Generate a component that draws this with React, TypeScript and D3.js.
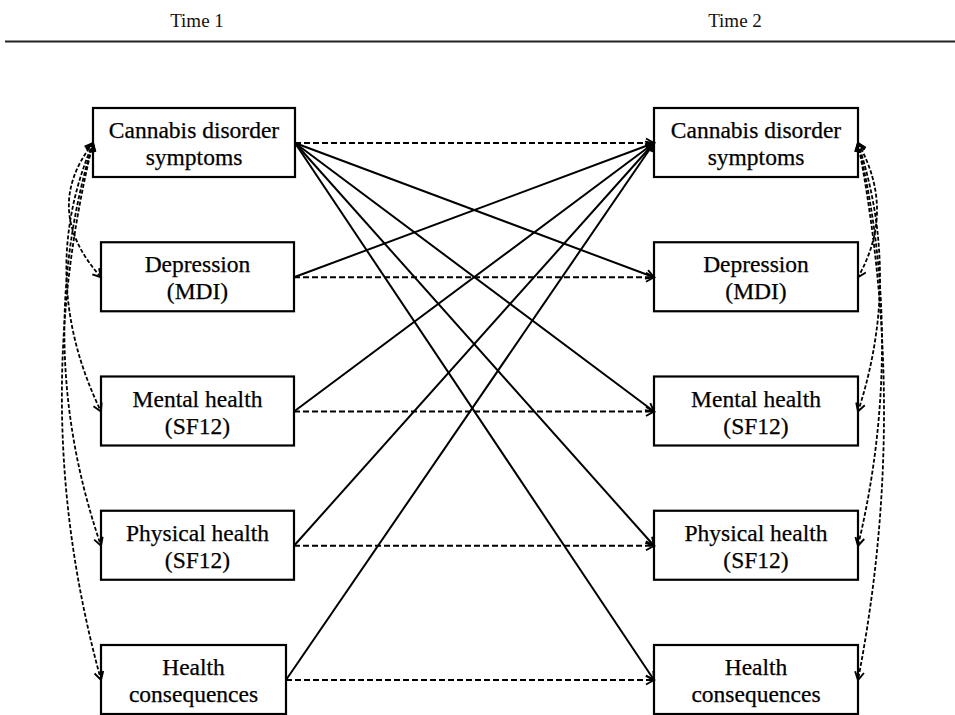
import React from "react";
import * as d3 from "d3";

// Time points (column headers)
const timeLabels = ["Time 1", "Time 2"];

// Measured constructs, one row each (two text lines per box)
const variables = ["cds", "mdi", "mh", "ph", "hc"];
const variableLines: string[][] = [
  ["Cannabis disorder", "symptoms"],
  ["Depression", "(MDI)"],
  ["Mental health", "(SF12)"],
  ["Physical health", "(SF12)"],
  ["Health", "consequences"],
];

// Autoregressive paths (T1 -> T2 same variable, dashed)
const stabilityPaths = [
  ["cds", "cds"],
  ["mdi", "mdi"],
  ["mh", "mh"],
  ["ph", "ph"],
  ["hc", "hc"],
];

// Cross-lagged paths (solid)
const crossLaggedPaths = [
  ["cds", "mdi"],
  ["cds", "mh"],
  ["cds", "ph"],
  ["cds", "hc"],
  ["mdi", "cds"],
  ["mh", "cds"],
  ["ph", "cds"],
  ["hc", "cds"],
];

// Within-time correlations (curved dashed, two heads)
const correlations = [
  ["cds", "mdi"],
  ["cds", "mh"],
  ["cds", "ph"],
  ["cds", "hc"],
];

const W = 955;
const H = 715;

// layout
const rowY = d3.scalePoint<string>().domain(variables).range([143, 680]);
const colX = d3.scalePoint<string>().domain(timeLabels).range([197, 735]);
const leftBoxX: [number, number][] = [
  [93, 295],
  [101, 294],
  [101, 294],
  [101, 294],
  [101, 286],
];
const rightBoxX: [number, number] = [654, 858];
const boxH = 69;
const leftBulge = [52, 57, 61, 66];
const rightBulge = [38, 44, 48, 52];

const font = "'Liberation Serif', 'Times New Roman', serif";

export default function App() {
  const idx = (v: string) => variables.indexOf(v);
  const lx = (v: string) => leftBoxX[idx(v)];

  const arc = (x0: number, y0: number, cx: number, x1: number, y1: number) => {
    const p = d3.path();
    p.moveTo(x0, y0);
    p.quadraticCurveTo(cx, (y0 + y1) / 2, x1, y1);
    return p.toString();
  };

  return (
    <svg
      width={W}
      height={H}
      style={{ position: "absolute", left: 0, top: 0, display: "block", background: "#fff" }}
      fontFamily={font}
    >
      <defs>
        <marker
          id="head"
          viewBox="-10 -6 12 12"
          refX={0}
          refY={0}
          markerWidth={12}
          markerHeight={12}
          markerUnits="userSpaceOnUse"
          orient="auto-start-reverse"
        >
          <path d="M-8,-4.5 L0,0 L-8,4.5" fill="none" stroke="#000" strokeWidth={1.9} />
        </marker>
      </defs>

      {/* header */}
      {timeLabels.map((t) => (
        <text key={t} x={colX(t)} y={27} textAnchor="middle" fontSize={19} fill="#111">
          {t}
        </text>
      ))}
      <line x1={5} x2={W} y1={41.5} y2={41.5} stroke="#222" strokeWidth={2} />

      {/* boxes */}
      {variables.map((v, i) => {
        const cy = rowY(v)!;
        const [a, b] = leftBoxX[i];
        return (
          <g key={v}>
            <rect x={a} y={cy - 35} width={b - a} height={boxH} fill="#fff" stroke="#000" strokeWidth={2.2} />
            <rect x={rightBoxX[0]} y={cy - 35} width={rightBoxX[1] - rightBoxX[0]} height={boxH} fill="#fff" stroke="#000" strokeWidth={2.2} />
            {variableLines[i].map((ln, j) => (
              <g key={j} fontSize={23.5} fill="#000" stroke="#000" strokeWidth={0.25} textAnchor="middle">
                <text x={(a + b) / 2} y={cy - 5 + j * 27}>
                  {ln}
                </text>
                <text x={(rightBoxX[0] + rightBoxX[1]) / 2} y={cy - 5 + j * 27}>
                  {ln}
                </text>
              </g>
            ))}
          </g>
        );
      })}

      {/* autoregressive paths */}
      {stabilityPaths.map(([f, t]) => (
        <line
          key={"s" + f}
          x1={lx(f)[1]}
          y1={rowY(f)}
          x2={rightBoxX[0]}
          y2={rowY(t)}
          stroke="#000"
          strokeWidth={1.8}
          strokeDasharray="6,3"
          markerEnd="url(#head)"
        />
      ))}

      {/* cross-lagged paths */}
      {crossLaggedPaths.map(([f, t]) => (
        <line
          key={"c" + f + t}
          x1={lx(f)[1]}
          y1={rowY(f)}
          x2={rightBoxX[0]}
          y2={rowY(t)}
          stroke="#000"
          strokeWidth={2}
          markerEnd="url(#head)"
        />
      ))}

      {/* correlations, Time 1 (left) and Time 2 (right) */}
      {correlations.map(([a, b], i) => (
        <g key={"r" + a + b}>
          <path
            d={arc(lx(a)[0], rowY(a)!, lx(a)[0] - leftBulge[i], lx(b)[0], rowY(b)!)}
            fill="none"
            stroke="#000"
            strokeWidth={1.8}
            strokeDasharray="4,2"
            markerStart="url(#head)"
            markerEnd="url(#head)"
          />
          <path
            d={arc(rightBoxX[1], rowY(a)!, rightBoxX[1] + rightBulge[i], rightBoxX[1], rowY(b)!)}
            fill="none"
            stroke="#000"
            strokeWidth={1.8}
            strokeDasharray="4,2"
            markerStart="url(#head)"
            markerEnd="url(#head)"
          />
        </g>
      ))}
    </svg>
  );
}
